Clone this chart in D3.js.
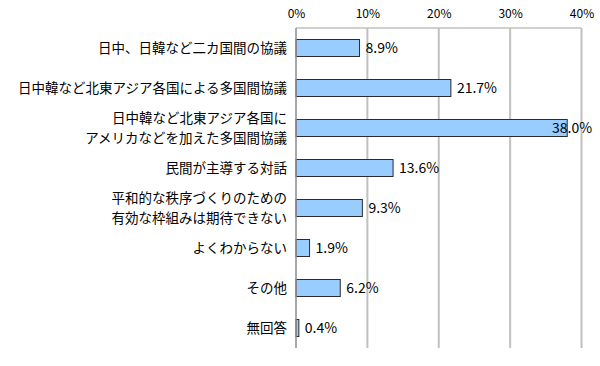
<!DOCTYPE html>
<html><head><meta charset="utf-8">
<script src="https://cdn.jsdelivr.net/npm/d3@7"></script>
<style>body{margin:0;background:#fff}svg{display:block}</style>
</head><body>
<svg id="c" width="600" height="366"></svg>
<script>
const categories = [
  ["日中、日韓など二カ国間の協議"],
  ["日中韓など北東アジア各国による多国間協議"],
  ["日中韓など北東アジア各国に","アメリカなどを加えた多国間協議"],
  ["民間が主導する対話"],
  ["平和的な秩序づくりのための","有効な枠組みは期待できない"],
  ["よくわからない"],
  ["その他"],
  ["無回答"]
];
const values = [8.9, 21.7, 38.0, 13.6, 9.3, 1.9, 6.2, 0.4];
const tickValues = [0, 10, 20, 30, 40];

(function () {
const font = "'Noto Sans CJK JP', 'Noto Sans', sans-serif";
const svg = d3.select("#c");
const pL = 296, pR = 581.5, pT = 28, pB = 348;
const x = d3.scaleLinear().domain([0, 40]).range([pL, pR]);
const y = d3.scaleBand().domain(d3.range(values.length)).range([pT, pB]).paddingInner(0.575).paddingOuter(0.2875);

// gridlines
svg.append("g").selectAll("line").data(tickValues.slice(1)).join("line")
  .attr("x1", d => x(d)).attr("x2", d => x(d)).attr("y1", pT).attr("y2", pB)
  .attr("stroke", "#c0c0c0").attr("stroke-width", 2);
svg.append("line").attr("x1", pL).attr("x2", pR).attr("y1", pT).attr("y2", pT)
  .attr("stroke", "#c0c0c0").attr("stroke-width", 1.5);

// top axis labels
const ax = d3.axisTop(x).tickValues(tickValues).tickFormat(d => d + "%").tickSize(0).tickPadding(0);
const axG = svg.append("g").attr("transform", `translate(0,${pT - 10})`).call(ax);
axG.select(".domain").remove();
axG.selectAll("text").attr("font-family", font).attr("font-size", 12).attr("fill", "#000");

// bars
svg.append("g").selectAll("rect").data(values).join("rect")
  .attr("x", x(0)).attr("y", (d, i) => y(i))
  .attr("width", d => x(d) - x(0)).attr("height", y.bandwidth())
  .attr("fill", "#99ccff").attr("stroke", "#2b2b2b").attr("stroke-width", 1);

// left axis line
svg.append("line").attr("x1", pL).attr("x2", pL).attr("y1", pT).attr("y2", pB)
  .attr("stroke", "#8c8c8c").attr("stroke-width", 1.5);

// value labels
svg.append("g").selectAll("text").data(values).join("text")
  .attr("x", d => Math.min(x(d) + 6, 552)).attr("y", (d, i) => y(i) + y.bandwidth() / 2)
  .attr("dy", "0.36em").attr("font-family", font).attr("font-size", 14).attr("fill", "#000")
  .text(d => d.toFixed(1) + "%");

// category labels (one text element per line)
const lines = [];
categories.forEach((c, i) => c.forEach((t, j) => lines.push({t, i, j, n: c.length})));
const sp = 19.8;
svg.append("g").selectAll("text").data(lines).join("text")
  .attr("text-anchor", "end").attr("font-family", font).attr("font-size", 13.5).attr("fill", "#000")
  .attr("x", 287)
  .attr("y", e => y(e.i) + y.bandwidth() / 2 + (e.j - (e.n - 1) / 2) * sp)
  .attr("dy", "0.36em")
  .text(e => e.t);
})();
</script>
</body></html>
